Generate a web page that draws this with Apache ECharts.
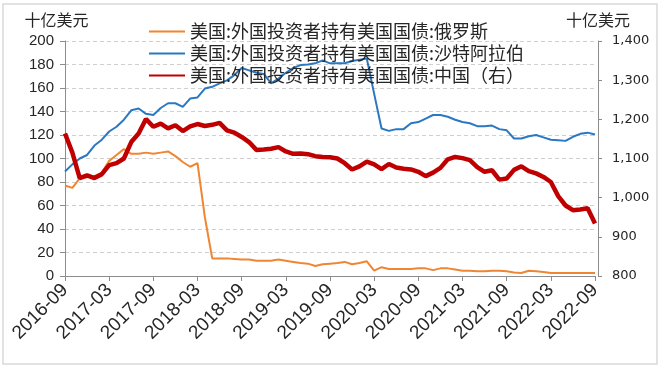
<!DOCTYPE html>
<html>
<head>
<meta charset="utf-8">
<script src="https://cdn.jsdelivr.net/npm/echarts@6/dist/echarts.min.js"></script>
<style>
html,body{margin:0;padding:0;background:#fff;}
#main{width:664px;height:372px;}
</style>
</head>
<body>
<div id="main"></div>
<script>
const categories = [
 '2016-09','2016-10','2016-11','2016-12',
 '2017-01','2017-02','2017-03','2017-04','2017-05','2017-06','2017-07','2017-08','2017-09','2017-10','2017-11','2017-12',
 '2018-01','2018-02','2018-03','2018-04','2018-05','2018-06','2018-07','2018-08','2018-09','2018-10','2018-11','2018-12',
 '2019-01','2019-02','2019-03','2019-04','2019-05','2019-06','2019-07','2019-08','2019-09','2019-10','2019-11','2019-12',
 '2020-01','2020-02','2020-03','2020-04','2020-05','2020-06','2020-07','2020-08','2020-09','2020-10','2020-11','2020-12',
 '2021-01','2021-02','2021-03','2021-04','2021-05','2021-06','2021-07','2021-08','2021-09','2021-10','2021-11','2021-12',
 '2022-01','2022-02','2022-03','2022-04','2022-05','2022-06','2022-07','2022-08','2022-09'
];

const russia = [
 77,75,83,84,85,88,98,103,108,104,104,105,
 104,105,106,102,97,93,96,50,15,15,15,14.5,
 14,14,13,13,13,14,13,12,11,10.5,8.5,10,
 10.5,11,12,10,11,12.5,4.5,7.5,6,6,6,6,
 6.5,6.5,5,6.5,6.5,5.5,4.5,4.5,4,4,4.5,4.5,
 4,3,2.5,4.5,4,3.5,2.5,2.5,2.5,2.5,2.5,2.5,2.5
];

const saudi = [
 89,95,100,103,111,116,123,127,133,141,142.5,138,
 137,143,147,147,144,151,152,159.5,161,164,166.5,171,
 177,175,173,172,164,168,173,177,179.5,180,181,183.5,
 181,181,181,183,184,185,155,125.5,123.5,125,125,130,
 131,134,137,137,135.5,133,131,130,127.5,127.5,128,125,
 124,117,117,119,120,118,116,115.5,115,118.5,121,122,120.5
];

const china = [
 1164,1115,1050,1057,1050,1060,1083,1088,1100,1142,1164,1201,
 1181,1189,1177,1185,1170,1182,1188,1183,1186,1191,1172,1166,
 1155,1142,1122,1123,1125,1129,1118,1112,1113,1111,1106,1104,
 1103,1100,1088,1072,1080,1092,1085,1073,1086,1077,1074,1072,
 1066,1055,1064,1076,1098,1104,1101,1096,1078,1066,1070,1046,
 1049,1071,1080,1068,1062,1053,1040,1004,980,968,970,973,934
];

const seriesNames = [
  '美国:外国投资者持有美国国债:俄罗斯',
  '美国:外国投资者持有美国国债:沙特阿拉伯',
  '美国:外国投资者持有美国国债:中国（右）'
];
const unitName = '十亿美元';

const chart = echarts.init(document.getElementById('main'), null, {renderer: 'canvas'});
const latin = '"Liberation Sans", Arial, sans-serif';
const cjk = '"Noto Sans CJK SC", sans-serif';

chart.setOption({
  animation: false,
  backgroundColor: '#ffffff',
  graphic: [{
    type: 'rect',
    shape: {x: 3, y: 4, width: 654, height: 360},
    style: {fill: 'none', stroke: '#d9d9d9', lineWidth: 1.5},
    silent: true, z: -10
  }],
  grid: {left: 65, right: 69, top: 41, bottom: 96, containLabel: false, outerBoundsMode: 'none'},
  legend: {
    orient: 'vertical',
    left: 143,
    top: 16,
    itemWidth: 36,
    itemHeight: 14,
    itemGap: 1,
    itemStyle: {opacity: 0},
    textStyle: {fontFamily: cjk, fontSize: 18, color: '#262626', lineHeight: 21},
    data: seriesNames
  },
  xAxis: {
    type: 'category',
    data: categories,
    boundaryGap: false,
    axisLine: {lineStyle: {color: '#8c8c8c', width: 1}},
    axisTick: {show: true, interval: 5, length: 5, lineStyle: {color: '#8c8c8c'}},
    axisLabel: {
      interval: 5, rotate: 45, margin: 11,
      fontFamily: latin, fontSize: 19, color: '#262626',
      hideOverlap: false
    },
    splitLine: {show: false}
  },
  yAxis: [{
    type: 'value',
    min: 0, max: 200, interval: 20,
    name: unitName,
    nameLocation: 'end',
    nameGap: 13,
    nameTextStyle: {fontFamily: cjk, fontSize: 16, color: '#262626', align: 'center', padding: [0, 17, 0, 0]},
    axisLine: {show: true, lineStyle: {color: '#8c8c8c'}},
    axisTick: {show: true, length: 5, lineStyle: {color: '#8c8c8c'}},
    axisLabel: {fontFamily: latin, fontSize: 15, color: '#262626', margin: 11},
    splitLine: {show: true, lineStyle: {color: '#d0d0d0', type: [4, 3], width: 1}}
  }, {
    type: 'value',
    min: 800, max: 1400, interval: 100,
    position: 'right',
    offset: 3,
    name: unitName,
    nameLocation: 'end',
    nameGap: 13,
    nameTextStyle: {fontFamily: cjk, fontSize: 16, color: '#262626', align: 'center'},
    axisLine: {show: true, lineStyle: {color: '#8c8c8c'}},
    axisTick: {show: true, length: 4, lineStyle: {color: '#8c8c8c'}},
    axisLabel: {
      fontFamily: '"DejaVu Sans", Verdana, sans-serif', fontSize: 13, color: '#262626', margin: 14,
      formatter: function (v) { return v.toLocaleString('en-US'); }
    },
    splitLine: {show: false}
  }],
  series: [{
    name: seriesNames[0], type: 'line', data: russia, yAxisIndex: 0,
    symbol: 'none', color: '#ef8633',
    lineStyle: {width: 2, color: '#ef8633'}, z: 2
  }, {
    name: seriesNames[1], type: 'line', data: saudi, yAxisIndex: 0,
    symbol: 'none', color: '#2a78c2',
    lineStyle: {width: 2, color: '#2a78c2'}, z: 3
  }, {
    name: seriesNames[2], type: 'line', data: china, yAxisIndex: 1,
    symbol: 'none', color: '#c00000',
    lineStyle: {width: 4.5, color: '#c00000'}, z: 4
  }]
});
</script>
</body>
</html>
